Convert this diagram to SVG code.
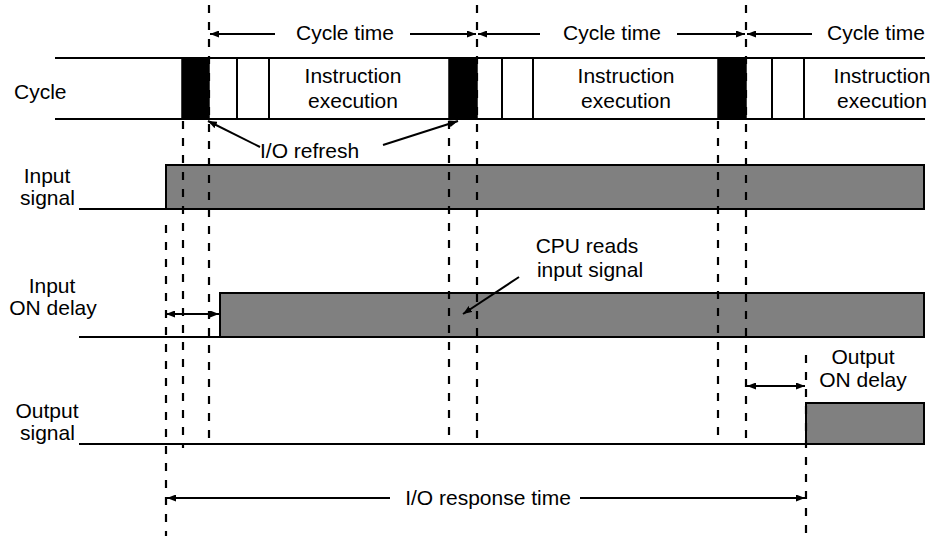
<svg xmlns="http://www.w3.org/2000/svg" width="935" height="536" viewBox="0 0 935 536">
<defs>
<style>
text{font-family:"Liberation Sans",Arial,sans-serif;font-size:21px;fill:#000}
.ln{stroke:#000;stroke-width:2;fill:none}
.ds{stroke:#000;stroke-width:2.2;stroke-dasharray:8 9;fill:none}
.sig{fill:#808080;stroke:#000;stroke-width:2}
.blk{fill:#000;stroke:#000;stroke-width:1.5}
.wb{fill:#fff;stroke:#000;stroke-width:2}
.mid{text-anchor:middle}
</style>
<marker id="ah" markerWidth="9" markerHeight="7" refX="9" refY="3.5" orient="auto" markerUnits="userSpaceOnUse">
<path d="M0,0 L9,3.5 L0,7 Z" fill="#000"/>
</marker>
</defs>
<rect width="935" height="536" fill="#fff"/>

<g id="cycle-row">
<line class="ln" x1="55" y1="58" x2="925" y2="58"/>
<line class="ln" x1="55" y1="119" x2="925" y2="119"/>
<rect class="blk" x="182" y="58" width="27" height="61"/>
<rect class="wb" x="237" y="58" width="32" height="61"/>
<rect class="blk" x="449" y="58" width="28" height="61"/>
<rect class="wb" x="502" y="58" width="31" height="61"/>
<rect class="blk" x="718" y="58" width="28" height="61"/>
<rect class="wb" x="772" y="58" width="32" height="61"/>
<text x="14" y="99">Cycle</text>
<text class="mid" x="353" y="83">Instruction</text>
<text class="mid" x="353" y="108">execution</text>
<text class="mid" x="626" y="83">Instruction</text>
<text class="mid" x="626" y="108">execution</text>
<text class="mid" x="882" y="83">Instruction</text>
<text class="mid" x="882" y="108">execution</text>
</g>

<g id="cycle-time-labels">
<text class="mid" x="345" y="40">Cycle time</text>
<text class="mid" x="612" y="40">Cycle time</text>
<text class="mid" x="876" y="40">Cycle time</text>
</g>

<g id="io-refresh">
<text x="260" y="158">I/O refresh</text>
</g>

<g id="input-signal">
<text class="mid" x="47" y="183">Input</text>
<text x="20" y="205">signal</text>
<polyline class="ln" points="79,209 166,209"/>
<rect class="sig" x="166" y="165" width="758" height="44"/>
</g>

<g id="input-on-delay">
<text class="mid" x="52" y="293">Input</text>
<text class="mid" x="53" y="315">ON delay</text>
<line class="ln" x1="79" y1="337" x2="925" y2="337"/>
<rect class="sig" x="220" y="293" width="704" height="44"/>
</g>

<g id="cpu-reads">
<text class="mid" x="587" y="253">CPU reads</text>
<text class="mid" x="590" y="277">input signal</text>
</g>

<g id="output-signal">
<text class="mid" x="47" y="418">Output</text>
<text x="20" y="440">signal</text>
<line class="ln" x1="79" y1="444" x2="806" y2="444"/>
<rect class="sig" x="806" y="403" width="118" height="41"/>
</g>

<g id="output-on-delay">
<text class="mid" x="863" y="364">Output</text>
<text class="mid" x="863" y="387">ON delay</text>
</g>

<g id="io-response-time">
<text class="mid" x="488" y="505">I/O response time</text>
</g>

<g id="connectors">
<line class="ds" x1="209" y1="5" x2="209" y2="445"/>
<line class="ds" x1="183" y1="121" x2="183" y2="448"/>
<line class="ds" x1="166" y1="225" x2="166" y2="536"/>
<line class="ds" x1="449" y1="121" x2="449" y2="445"/>
<line class="ds" x1="477" y1="5" x2="477" y2="445"/>
<line class="ds" x1="718" y1="121" x2="718" y2="445"/>
<line class="ds" x1="746" y1="5" x2="746" y2="445"/>
<line class="ds" x1="806" y1="355" x2="806" y2="536"/>
<line class="ln" x1="275" y1="34" x2="210" y2="34" marker-end="url(#ah)"/>
<line class="ln" x1="410" y1="34" x2="476" y2="34" marker-end="url(#ah)"/>
<line class="ln" x1="540" y1="34" x2="478" y2="34" marker-end="url(#ah)"/>
<line class="ln" x1="677" y1="34" x2="745" y2="34" marker-end="url(#ah)"/>
<line class="ln" x1="812" y1="34" x2="747" y2="34" marker-end="url(#ah)"/>
<line class="ln" x1="260" y1="147" x2="208" y2="121" marker-end="url(#ah)"/>
<line class="ln" x1="383" y1="145" x2="458" y2="121" marker-end="url(#ah)"/>
<line class="ln" x1="170" y1="314" x2="166" y2="314" marker-end="url(#ah)"/>
<line class="ln" x1="166" y1="314" x2="219" y2="314" marker-end="url(#ah)"/>
<line class="ln" x1="519" y1="277" x2="463" y2="314" marker-end="url(#ah)"/>
<line class="ln" x1="750" y1="386" x2="747" y2="386" marker-end="url(#ah)"/>
<line class="ln" x1="747" y1="386" x2="805" y2="386" marker-end="url(#ah)"/>
<line class="ln" x1="390" y1="498" x2="167" y2="498" marker-end="url(#ah)"/>
<line class="ln" x1="580" y1="498" x2="805" y2="498" marker-end="url(#ah)"/>
</g>
</svg>
